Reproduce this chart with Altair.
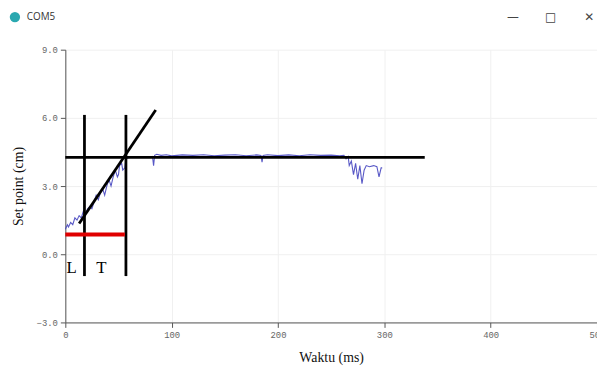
import altair as alt
import pandas as pd

# Measured response (blue trace)
t_ms = [0, 2, 3, 5, 7, 9, 11, 13, 15, 17, 19, 21, 23, 25, 27, 29, 31, 33, 35, 37,
        39, 41, 43, 45, 47, 49, 50, 51, 53, 54, 56, 57, 60, 70, 80, 82, 83, 84, 86,
        90, 95, 100, 110, 120, 130, 140, 150, 160, 170, 180, 184, 185, 186, 190,
        200, 210, 220, 230, 240, 250, 258, 262, 264, 266, 267, 269, 271, 273, 275,
        277, 279, 281, 283, 286, 290, 293, 295, 297, 298]
pos_cm = [1.1, 1.3, 1.2, 1.4, 1.3, 1.6, 1.5, 1.7, 1.6, 1.9, 1.8, 2.0, 2.1, 2.0, 2.3,
          2.6, 2.4, 2.7, 2.9, 2.6, 3.0, 3.3, 3.0, 3.4, 3.7, 3.4, 3.5, 3.9, 4.0, 3.7,
          3.8, 4.2, 4.26, 4.26, 4.26, 4.3, 3.9, 4.35, 4.4, 4.35, 4.38, 4.33, 4.37,
          4.35, 4.38, 4.33, 4.36, 4.38, 4.33, 4.37, 4.35, 4.05, 4.35, 4.38, 4.34,
          4.37, 4.33, 4.38, 4.35, 4.36, 4.33, 4.35, 4.2, 4.3, 3.9, 4.1, 3.5, 4.0,
          3.3, 3.9, 3.1, 3.7, 3.9, 3.85, 3.9, 3.85, 3.4, 3.8, 3.8]

# Graphical construction lines
tangent_t = [13, 85]
tangent_v = [1.35, 6.35]
steady_t = [0, 338]
steady_v = [4.26, 4.26]
vert_t = [18, 57]
vert_lo = [-0.96, -0.96]
vert_hi = [6.13, 6.13]
dead_t = [0, 56]
dead_v = [0.87, 0.87]
label_text = ["L", "T"]
label_t = [6, 34]
label_v = [-0.6, -0.6]

x_ticks = [0, 100, 200, 300, 400, 500]
y_ticks = [-3, 0, 3, 6, 9]

xs = alt.Scale(domain=[0, 500], nice=False)
ys = alt.Scale(domain=[-3, 9], nice=False)

resp = pd.DataFrame({"t": t_ms, "v": pos_cm})

base_x = alt.X("t:Q", scale=xs, title="Waktu (ms)",
               axis=alt.Axis(values=x_ticks, format="d", grid=True, labelFlush=False))
base_y = alt.Y("v:Q", scale=ys, title="Set point (cm)",
               axis=alt.Axis(values=y_ticks, format=".1f", grid=True, labelFlush=False))

line = alt.Chart(resp).mark_line(color="#4646c0", strokeWidth=1.1, opacity=0.9).encode(
    x=base_x, y=base_y)

tan = alt.Chart(pd.DataFrame({"t": tangent_t, "v": tangent_v})).mark_line(
    color="black", strokeWidth=2.8).encode(x="t:Q", y="v:Q")
steady = alt.Chart(pd.DataFrame({"t": steady_t, "v": steady_v})).mark_line(
    color="black", strokeWidth=2.8).encode(x="t:Q", y="v:Q")
verts = alt.Chart(pd.DataFrame({"t": vert_t, "lo": vert_lo, "hi": vert_hi})).mark_rule(
    color="black", strokeWidth=2.8).encode(x="t:Q", y="lo:Q", y2="hi:Q")
dead = alt.Chart(pd.DataFrame({"t": dead_t, "v": dead_v})).mark_line(
    color="#e00000", strokeWidth=4).encode(x="t:Q", y="v:Q")
labels = alt.Chart(pd.DataFrame({"txt": label_text, "t": label_t, "v": label_v})).mark_text(
    font="Liberation Serif", fontSize=17, color="black", align="center", baseline="middle"
).encode(x="t:Q", y="v:Q", text="txt:N")

# window chrome
win = pd.DataFrame({"txt": ["COM5"]})
icon = alt.Chart(win).mark_point(filled=True, color="#2aa8b0", size=110, opacity=1).encode(
    x=alt.value(-51), y=alt.value(-33))
wtitle = alt.Chart(win).mark_text(font="Open Sans", fontSize=10, color="#333", align="left",
                                  baseline="middle").encode(
    x=alt.value(-39), y=alt.value(-33), text="txt:N")
ctrl = pd.DataFrame({"txt": ["—", "□", "✕"], "px": [453, 491, 530]})
ctrls = alt.Chart(ctrl).mark_text(font="DejaVu Sans", fontSize=12, color="#444",
                                  align="center", baseline="middle").encode(
    x=alt.X("px:Q", scale=None), y=alt.value(-33), text="txt:N")

chart = alt.layer(line, tan, steady, verts, dead, labels, icon, wtitle, ctrls).properties(
    width=538, height=276,
    autosize=alt.AutoSizeParams(type="none"),
    padding={"left": 58, "top": 40, "right": 0, "bottom": 50},
).configure_view(stroke=None).configure_axis(
    gridColor="#f0f0f0", domainColor="#555", tickColor="#555", tickSize=5,
    labelFont="Liberation Mono", labelFontSize=9, labelColor="#666",
    titleFont="Liberation Serif", titleFontSize=14, titleFontWeight="normal",
    titleColor="#111", labelPadding=3,
).configure_axisX(titlePadding=12).configure_axisY(titlePadding=11)

chart.save("out.html", embed_options={"renderer": "svg", "actions": False})
